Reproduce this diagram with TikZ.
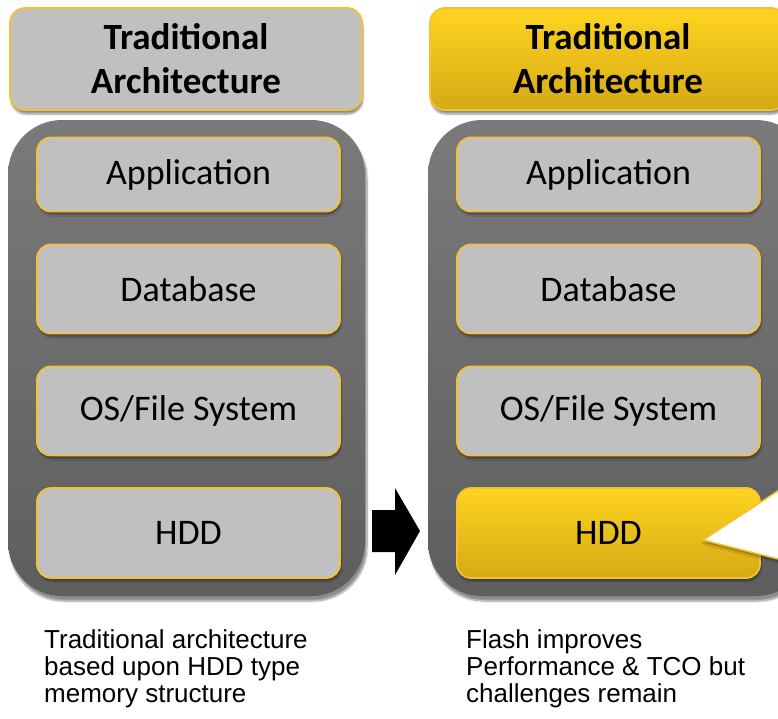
\documentclass[tikz,border=0pt]{standalone}
\usepackage{fontspec}
\setmainfont{Carlito}
\newfontfamily\capfont{Liberation Sans}
\usetikzlibrary{shadows.blur}
\definecolor{boxgray}{HTML}{C0C0C0}
\definecolor{rimyellow}{HTML}{F3C232}
\definecolor{stacktop}{HTML}{7A7A7A}
\definecolor{stackbot}{HTML}{5E5E5E}
\definecolor{goldtop}{HTML}{FFD420}
\definecolor{goldbot}{HTML}{D5A914}
\tikzset{
  stack/.style={rounded corners=54pt, top color=stacktop, bottom color=stackbot,
    blur shadow={shadow xshift=2pt, shadow yshift=-5pt, shadow blur steps=8, shadow opacity=45}},
  layer/.style={draw=rimyellow, line width=1.8pt, fill=boxgray, rounded corners=14pt,
    minimum width=303pt, inner sep=0pt, font=\fontsize{36}{40}\selectfont,
    blur shadow={shadow xshift=1pt, shadow yshift=-3pt, shadow blur steps=6, shadow opacity=40}},
  golden/.style={top color=goldtop, bottom color=goldbot},
  header/.style={draw=rimyellow, line width=1.8pt, fill=boxgray, rounded corners=15pt,
    minimum height=102pt, inner sep=0pt, align=center,
    font=\fontsize{37}{44}\selectfont\bfseries,
    blur shadow={shadow xshift=1pt, shadow yshift=-4pt, shadow blur steps=6, shadow opacity=45}},
  caption/.style={anchor=base west, align=left, inner sep=0pt,
    font=\capfont\fontsize{26}{27}\selectfont}
}
\begin{document}
\begin{tikzpicture}[x=1pt, y=-1pt]
\useasboundingbox (0,0) rectangle (778,718);
\clip (0,0) rectangle (778,718);

% left column
\node[header, minimum width=352pt] (lhead) at (186,59) {Traditional\\Architecture};
\path[stack] (8,120) -- (365,120) -- (365,596) -- (8,596) -- cycle;
\node[layer, minimum height=74pt] (lapp) at (188.5,174.5) {Application};
\node[layer, minimum height=89pt] (ldb)  at (188.5,289) {Database};
\node[layer, minimum height=89pt] (los)  at (188.5,411) {OS/File System};
\node[layer, minimum height=90pt] (lhdd) at (188.5,533) {HDD};

% right column
\node[header, golden, minimum width=356pt] (rhead) at (608,59) {Traditional\\Architecture};
\path[stack] (428,120) -- (810,120) -- (810,596) -- (428,596) -- cycle;
\node[layer, minimum height=74pt] (rapp) at (608.5,174.5) {Application};
\node[layer, minimum height=89pt] (rdb)  at (608.5,289) {Database};
\node[layer, minimum height=89pt] (ros)  at (608.5,411) {OS/File System};
\node[layer, golden, minimum height=90pt] (rhdd) at (608.5,533) {HDD};

% callout pointing at the flash HDD layer
\coordinate (tip) at (703,540);
\coordinate (ctop) at (790,483);
\coordinate (cbot) at (790,562);
\fill[white, draw=rimyellow, line width=1.5pt, line join=miter,
  blur shadow={shadow xshift=1pt, shadow yshift=-3pt, shadow opacity=35}]
  (ctop) -- (tip) -- (cbot) -- cycle;

% block arrow between the columns
\coordinate (arr) at (372,531);
\fill[black] (arr) ++(0,-21) -- ++(23,0) -- ++(0,-22) -- ++(25,43) -- ++(-25,44)
  -- ++(0,-23) -- ++(-23,0) -- cycle;

% captions (base anchor sits on the last line)
\node[caption] (lcap) at (44,702) {Traditional architecture\\based upon HDD type\\memory structure};
\node[caption] (rcap) at (466,702) {Flash improves\\Performance \& TCO but\\challenges remain};
\end{tikzpicture}
\end{document}
